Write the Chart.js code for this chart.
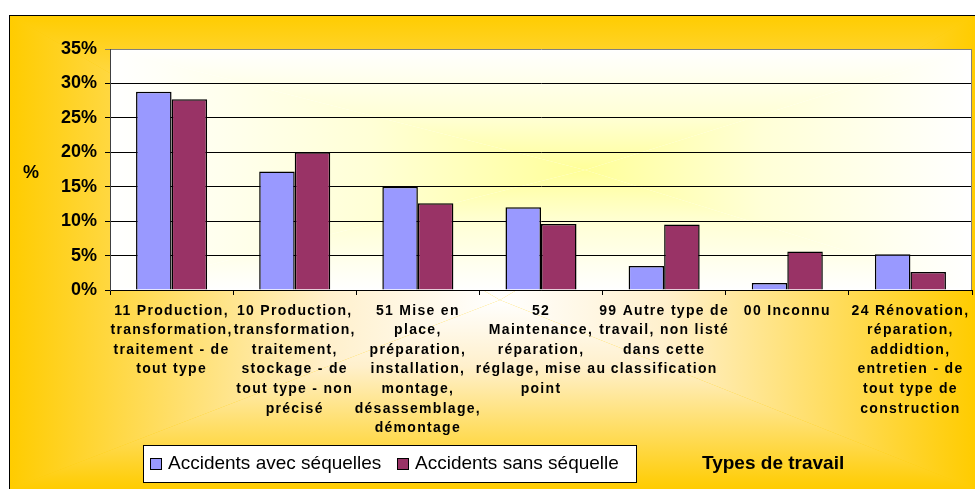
<!DOCTYPE html>
<html>
<head>
<meta charset="utf-8">
<script src="https://cdn.jsdelivr.net/npm/chart.js@4.4.1/dist/chart.umd.min.js"></script>
<style>
  body { margin: 0; background: #fff; }
  canvas { display: block; }
</style>
</head>
<body>
<canvas id="myChart" width="975" height="489"></canvas>
<script>
const categories = [
  ['11 Production,', 'transformation,', 'traitement - de', 'tout type'],
  ['10 Production,', 'transformation,', 'traitement,', 'stockage - de', 'tout type - non', 'précisé'],
  ['51 Mise en', 'place,', 'préparation,', 'installation,', 'montage,', 'désassemblage,', 'démontage'],
  ['52', 'Maintenance,', 'réparation,', 'réglage, mise au', 'point'],
  ['99 Autre type de', 'travail, non listé', 'dans cette', 'classification'],
  ['00 Inconnu'],
  ['24 Rénovation,', 'réparation,', 'addidtion,', 'entretien - de', 'tout type de', 'construction']
]
const avecSequelles = [28.8, 17.2, 15.0, 12.0, 3.5, 1.0, 5.2]
const sansSequelle = [27.7, 20.0, 12.6, 9.6, 9.5, 5.6, 2.6]
const seriesNames = ['Accidents avec séquelles', 'Accidents sans séquelle']
const yTicks = [0, 5, 10, 15, 20, 25, 30, 35]
const yTitle = '%'
const xTitle = 'Types de travail'

Chart.defaults.font.family = '"Liberation Sans", Arial, sans-serif'
Chart.defaults.color = '#000'

// rectangular "from center" gradient, like the office one
function pathGradient(ctx, x0, y0, x1, y1, cx, cy, stops) {
  const sides = [
    [[x0, y0], [x1, y0], cx, cy, cx, y0],
    [[x0, y1], [x1, y1], cx, cy, cx, y1],
    [[x0, y0], [x0, y1], cx, cy, x0, cy],
    [[x1, y0], [x1, y1], cx, cy, x1, cy]
  ]
  ctx.fillStyle = stops[stops.length - 1][1]
  ctx.fillRect(x0, y0, x1 - x0, y1 - y0)
  sides.forEach(s => {
    const g = ctx.createLinearGradient(s[2], s[3], s[4], s[5])
    stops.forEach(st => g.addColorStop(st[0], st[1]))
    ctx.fillStyle = g
    ctx.beginPath()
    ctx.moveTo(s[0][0], s[0][1])
    ctx.lineTo(s[1][0], s[1][1])
    ctx.lineTo(cx, cy)
    ctx.closePath()
    ctx.fill()
  })
}

const backgroundPlugin = {
  id: 'background',
  beforeDraw(chart) {
    const ctx = chart.ctx
    const a = chart.chartArea
    ctx.save()
    pathGradient(ctx, 10, 15, 975, 489, 500, 300,
      [[0, '#ffffff'], [0.35, '#fff0cc'], [1, '#ffcc00']])
    ctx.strokeStyle = '#000'
    ctx.lineWidth = 1
    ctx.strokeRect(9.5, 15.5, 1000, 1000)
    pathGradient(ctx, a.left, a.top, a.right, a.bottom, 585, 170,
      [[0, '#ffff99'], [0.45, '#ffffd6'], [1, '#ffffff']])
    ctx.restore()
  },
  afterLayout(chart) {
    const xs = chart.scales.x
    if (!xs._spaced) {
      const orig = xs.drawLabels
      xs.drawLabels = function (area) {
        this.ctx.save()
        this.ctx.letterSpacing = '1.3px'
        orig.call(this, area)
        this.ctx.restore()
      }
      xs._spaced = true
    }
  },
  beforeDatasetsDraw(chart) {
    const ctx = chart.ctx
    const a = chart.chartArea
    ctx.save()
    ctx.strokeStyle = '#808080'
    ctx.lineWidth = 1
    ctx.beginPath()
    ctx.moveTo(a.right - 0.5, a.top)
    ctx.lineTo(a.right - 0.5, a.bottom)
    ctx.stroke()
    ctx.restore()
  },
  afterDraw(chart) {
    const ctx = chart.ctx
    ctx.save()
    // axis titles
    ctx.fillStyle = '#000'
    ctx.font = 'bold 18px "Liberation Sans", Arial, sans-serif'
    ctx.textAlign = 'center'
    ctx.textBaseline = 'middle'
    ctx.fillText(yTitle, 31, 173)
    ctx.font = 'bold 19px "Liberation Sans", Arial, sans-serif'
    ctx.textAlign = 'left'
    ctx.textBaseline = 'alphabetic'
    ctx.fillText(xTitle, 702, 469)

    // legend box
    ctx.fillStyle = '#fff'
    ctx.fillRect(143, 445, 494, 38)
    ctx.strokeStyle = '#000'
    ctx.lineWidth = 1
    ctx.strokeRect(143.5, 445.5, 493, 37)
    ctx.font = '19px "Liberation Sans", Arial, sans-serif'
    const starts = [150, 397]
    chart.data.datasets.forEach((ds, i) => {
      const x = starts[i]
      ctx.fillStyle = ds.backgroundColor
      ctx.fillRect(x, 458, 11, 11)
      ctx.strokeStyle = '#000'
      ctx.strokeRect(x + 0.5, 458.5, 11, 11)
      ctx.fillStyle = '#000'
      ctx.fillText(ds.label, x + 18, 469)
    })
    ctx.restore()
  }
}

const ctx = document.getElementById('myChart')

new Chart(ctx, {
  type: 'bar',
  data: {
    labels: categories,
    datasets: [{
      label: seriesNames[0],
      data: avecSequelles,
      backgroundColor: '#9999ff',
      borderColor: '#000',
      borderWidth: 1.5,
      categoryPercentage: 0.577,
      barPercentage: 1
    }, {
      label: seriesNames[1],
      data: sansSequelle,
      backgroundColor: '#993366',
      borderColor: '#000',
      borderWidth: 1.5,
      categoryPercentage: 0.577,
      barPercentage: 1
    }]
  },
  options: {
    responsive: false,
    animation: false,
    devicePixelRatio: 1,
    layout: { padding: { top: 49, right: 3, left: 0, bottom: 0 } },
    plugins: {
      legend: { display: false },
      tooltip: { enabled: false }
    },
    scales: {
      x: {
        grid: { offset: true, drawOnChartArea: false, color: '#000', tickLength: 5 },
        border: { color: '#000' },
        ticks: {
          autoSkip: false,
          maxRotation: 0,
          minRotation: 0,
          padding: 6,
          color: '#000',
          font: { size: 14, weight: 'bold', lineHeight: 1.4 }
        },
        afterFit(scale) { scale.height = 489 - 290 }
      },
      y: {
        min: 0,
        max: 35,
        afterBuildTicks(scale) { scale.ticks = yTicks.map(v => ({ value: v })) },
        grid: {
          color: c => (c.tick && c.tick.value === 35 ? '#808080' : '#000'),
          tickLength: 5
        },
        border: { color: '#404040' },
        ticks: {
          padding: 8,
          color: '#000',
          font: { size: 18, weight: 'bold' },
          callback: v => v + '%'
        },
        afterFit(scale) { scale.width = 110 }
      }
    }
  },
  plugins: [backgroundPlugin]
})
</script>
</body>
</html>
